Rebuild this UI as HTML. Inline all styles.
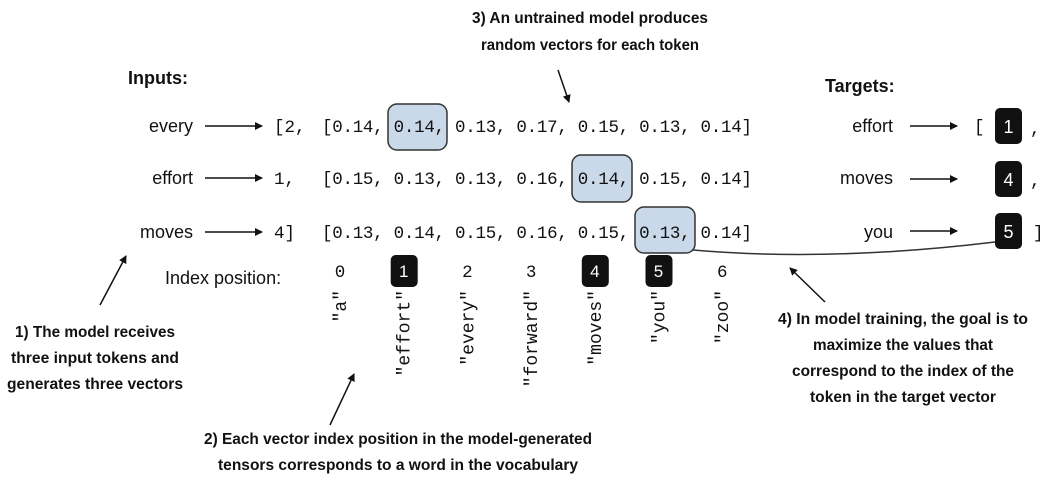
<!DOCTYPE html>
<html><head><meta charset="utf-8"><style>
html,body{margin:0;padding:0;background:#fff;}
svg{display:block;}
.m{font-family:"Liberation Mono",monospace;font-size:17.5px;fill:#111;}
.s{font-family:"Liberation Sans",sans-serif;font-size:18px;fill:#111;}
.b{font-family:"Liberation Sans",sans-serif;font-weight:bold;font-size:16px;fill:#111;}
.h{font-family:"Liberation Sans",sans-serif;font-weight:bold;font-size:18px;fill:#111;}
.r{font-family:"Liberation Mono",monospace;font-size:18px;fill:#111;}
</style></head><body>
<svg width="1058" height="483" viewBox="0 0 1058 483">
<defs><marker id="ah" markerWidth="8" markerHeight="8" refX="7" refY="4" orient="auto" markerUnits="userSpaceOnUse"><path d="M0,0 L8,4 L0,8 z" fill="#111"/></marker></defs>

<g>
<text class="b" x="590" y="23" text-anchor="middle" textLength="236" lengthAdjust="spacingAndGlyphs">3) An untrained model produces</text>
<text class="b" x="590" y="50" text-anchor="middle" textLength="218" lengthAdjust="spacingAndGlyphs">random vectors for each token</text>
<line x1="558" y1="70" x2="569" y2="102" stroke="#111" stroke-width="1.5" marker-end="url(#ah)"/>
</g>

<text class="h" x="128" y="84">Inputs:</text>
<text class="h" x="825" y="92">Targets:</text>

<g fill="#c9d9ea" stroke="#333" stroke-width="1.5">
<rect x="388" y="104" width="59" height="46" rx="9"/>
<rect x="572" y="155" width="60" height="47" rx="9"/>
<rect x="635" y="207" width="60" height="46" rx="9"/>
</g>
<path d="M693,250 Q830,262 995,242" fill="none" stroke="#333" stroke-width="1.5"/>

<g>
<text class="s" x="193" y="132" text-anchor="end">every</text>
<text class="s" x="193" y="184" text-anchor="end">effort</text>
<text class="s" x="193" y="238" text-anchor="end">moves</text>
<line x1="205" y1="126" x2="262" y2="126" stroke="#111" stroke-width="1.5" marker-end="url(#ah)"/>
<line x1="205" y1="178" x2="262" y2="178" stroke="#111" stroke-width="1.5" marker-end="url(#ah)"/>
<line x1="205" y1="232" x2="262" y2="232" stroke="#111" stroke-width="1.5" marker-end="url(#ah)"/>
<text class="m" x="274" y="132">[2,</text>
<text class="m" x="274" y="184">1,</text>
<text class="m" x="274" y="238">4]</text>
<text class="m" x="322" y="132" textLength="430" lengthAdjust="spacing">[0.14, 0.14, 0.13, 0.17, 0.15, 0.13, 0.14]</text>
<text class="m" x="322" y="184" textLength="430" lengthAdjust="spacing">[0.15, 0.13, 0.13, 0.16, 0.14, 0.15, 0.14]</text>
<text class="m" x="322" y="238" textLength="430" lengthAdjust="spacing">[0.13, 0.14, 0.15, 0.16, 0.15, 0.13, 0.14]</text>
</g>

<g>
<text class="s" x="893" y="132" text-anchor="end">effort</text>
<text class="s" x="893" y="184" text-anchor="end">moves</text>
<text class="s" x="893" y="238" text-anchor="end">you</text>
<line x1="910" y1="126" x2="957" y2="126" stroke="#111" stroke-width="1.5" marker-end="url(#ah)"/>
<line x1="910" y1="179" x2="957" y2="179" stroke="#111" stroke-width="1.5" marker-end="url(#ah)"/>
<line x1="910" y1="231" x2="957" y2="231" stroke="#111" stroke-width="1.5" marker-end="url(#ah)"/>
<text class="m" x="974" y="132">[</text>
<text class="m" x="1030" y="134">,</text>
<text class="m" x="1030" y="186">,</text>
<text class="m" x="1033" y="238">]</text>
<rect x="995" y="108" width="27" height="36" rx="5" fill="#111"/>
<rect x="995" y="161" width="27" height="36" rx="5" fill="#111"/>
<rect x="995" y="213" width="27" height="36" rx="5" fill="#111"/>
<text class="s" x="1008.5" y="133" text-anchor="middle" style="fill:#fff">1</text>
<text class="s" x="1008.5" y="186" text-anchor="middle" style="fill:#fff">4</text>
<text class="s" x="1008.5" y="238" text-anchor="middle" style="fill:#fff">5</text>
</g>

<text class="s" x="165" y="284">Index position:</text>
<g id="idx"></g>

<g>
<line x1="100" y1="305" x2="126" y2="256" stroke="#111" stroke-width="1.5" marker-end="url(#ah)"/>
<text class="b" x="95" y="337" text-anchor="middle" textLength="160" lengthAdjust="spacingAndGlyphs">1) The model receives</text>
<text class="b" x="95" y="363" text-anchor="middle" textLength="168" lengthAdjust="spacingAndGlyphs">three input tokens and</text>
<text class="b" x="95" y="389" text-anchor="middle" textLength="176" lengthAdjust="spacingAndGlyphs">generates three vectors</text>
</g>
<g>
<line x1="330" y1="425" x2="354" y2="374" stroke="#111" stroke-width="1.5" marker-end="url(#ah)"/>
<text class="b" x="398" y="444" text-anchor="middle" textLength="388" lengthAdjust="spacingAndGlyphs">2) Each vector index position in the model-generated</text>
<text class="b" x="398" y="470" text-anchor="middle" textLength="360" lengthAdjust="spacingAndGlyphs">tensors corresponds to a word in the vocabulary</text>
</g>
<g>
<line x1="825" y1="302" x2="790" y2="268" stroke="#111" stroke-width="1.5" marker-end="url(#ah)"/>
<text class="b" x="903" y="324" text-anchor="middle" textLength="250" lengthAdjust="spacingAndGlyphs">4) In model training, the goal is to</text>
<text class="b" x="903" y="350" text-anchor="middle" textLength="180" lengthAdjust="spacingAndGlyphs">maximize the values that</text>
<text class="b" x="903" y="376" text-anchor="middle" textLength="222" lengthAdjust="spacingAndGlyphs">correspond to the index of the</text>
<text class="b" x="903" y="402" text-anchor="middle" textLength="186" lengthAdjust="spacingAndGlyphs">token in the target vector</text>
</g>

<script>
const vocab = ['"a"','"effort"','"every"','"forward"','"moves"','"you"','"zoo"'];
const indices = [0,1,2,3,4,5,6];
const targetIdx = [1,4,5];
const g = document.getElementById('idx');
const NS = 'http://www.w3.org/2000/svg';
function xPos(i){ return 340 + i*63.7; }
indices.forEach(function(i){
  const x = xPos(i);
  const hl = targetIdx.indexOf(i) >= 0;
  if (hl) {
    const r = document.createElementNS(NS,'rect');
    
    
    r.setAttribute('x', x-13); r.setAttribute('y', 255);
    r.setAttribute('width', 27); r.setAttribute('height', 32);
    r.setAttribute('rx', 5); r.setAttribute('fill', '#111');
    g.appendChild(r);
  }
  const t = document.createElementNS(NS,'text');
  
  
  t.setAttribute('class','m');
  t.setAttribute('x', x); t.setAttribute('y', 277);
  t.setAttribute('text-anchor','middle');
  if (hl) t.setAttribute('style','fill:#fff;font-family:"Liberation Sans",sans-serif;font-size:17px');
  t.textContent = String(i);
  g.appendChild(t);
  const w = document.createElementNS(NS,'text');
  
  
  w.setAttribute('class','r');
  w.setAttribute('text-anchor','end');
  w.setAttribute('transform','translate('+(x+6)+',290) rotate(-90)');
  w.textContent = vocab[i];
  g.appendChild(w);
});
</script>
</svg>
</body></html>
